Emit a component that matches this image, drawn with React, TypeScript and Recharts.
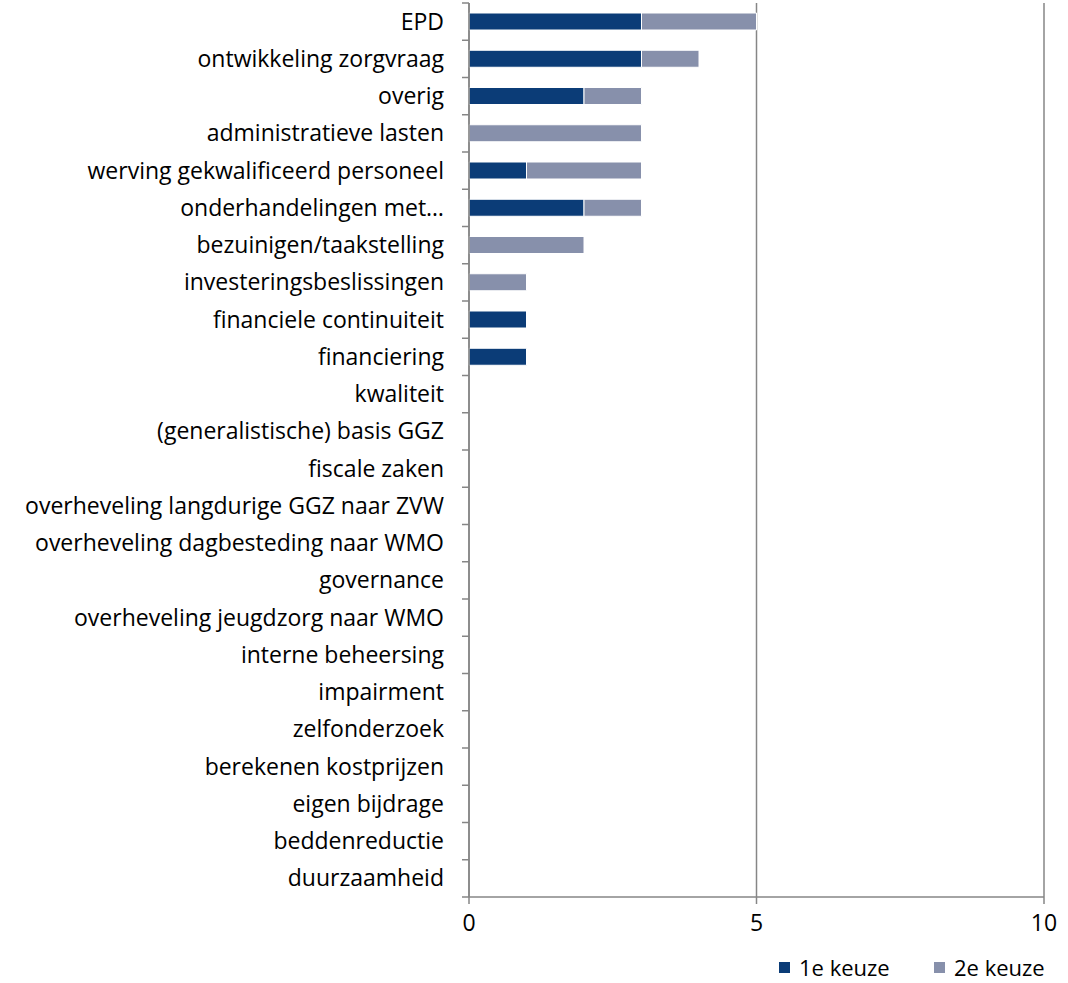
import React from "react";
import { BarChart, Bar, XAxis, YAxis, CartesianGrid } from "recharts";

const categories = [
  "EPD",
  "ontwikkeling zorgvraag",
  "overig",
  "administratieve lasten",
  "werving gekwalificeerd personeel",
  "onderhandelingen met…",
  "bezuinigen/taakstelling",
  "investeringsbeslissingen",
  "financiele continuiteit",
  "financiering",
  "kwaliteit",
  "(generalistische) basis GGZ",
  "fiscale zaken",
  "overheveling langdurige GGZ naar ZVW",
  "overheveling dagbesteding naar WMO",
  "governance",
  "overheveling jeugdzorg naar WMO",
  "interne beheersing",
  "impairment",
  "zelfonderzoek",
  "berekenen kostprijzen",
  "eigen bijdrage",
  "beddenreductie",
  "duurzaamheid",
];

const eersteKeuze = [3, 3, 2, 0, 1, 2, 0, 0, 1, 1, 0, 0, 0, 0, 0, 0, 0, 0, 0, 0, 0, 0, 0, 0];
const tweedeKeuze = [2, 1, 1, 3, 2, 1, 2, 1, 0, 0, 0, 0, 0, 0, 0, 0, 0, 0, 0, 0, 0, 0, 0, 0];

const xTicks = [0, 5, 10];
const seriesNames = ["1e keuze", "2e keuze"];

const DARK = "#0b3c77";
const LIGHT = "#8790ab";
const AXIS = "#868686";
const FONT = "'Open Sans', sans-serif";
const FONT_SIZE = 23;

const data = categories.map((name, i) => ({
  name,
  eerste: eersteKeuze[i],
  tweede: tweedeKeuze[i],
}));

const WIDTH = 1068;
const HEIGHT = 983;
const TOP = 3;
const BOTTOM_AXIS = 897;
const BAND = (BOTTOM_AXIS - TOP) / categories.length;

function CategoryTick(props: any) {
  const { x, y, payload, index } = props;
  const axisX = x + 8;
  return (
    <g>
      <line x1={axisX - 7} x2={axisX} y1={y - BAND / 2} y2={y - BAND / 2} stroke={AXIS} strokeWidth={1.5} />
      {index === categories.length - 1 && (
        <line x1={axisX - 7} x2={axisX} y1={y + BAND / 2} y2={y + BAND / 2} stroke={AXIS} strokeWidth={1.5} />
      )}
      <text x={x - 17} y={y} dy="0.35em" textAnchor="end" fontSize={FONT_SIZE} fill="#000" fontFamily={FONT}>
        {payload.value}
      </text>
    </g>
  );
}

function Legend() {
  const items = [
    { label: seriesNames[0], color: DARK, left: 779 },
    { label: seriesNames[1], color: LIGHT, left: 934 },
  ];
  return (
    <>
      {items.map((it) => (
        <div
          key={it.label}
          style={{
            position: "absolute",
            top: 956,
            left: it.left,
            height: 22,
            display: "flex",
            alignItems: "center",
            fontFamily: FONT,
            fontSize: 22,
            color: "#000",
            lineHeight: "22px",
            whiteSpace: "nowrap",
          }}
        >
          <span style={{ width: 11, height: 11, background: it.color, marginRight: 9, display: "inline-block" }} />
          {it.label}
        </div>
      ))}
    </>
  );
}

export default function App() {
  return (
    <div style={{ position: "absolute", left: 0, top: 0, width: WIDTH, height: HEIGHT, background: "#fff" }}>
      <BarChart
        width={WIDTH}
        height={HEIGHT}
        data={data}
        layout="vertical"
        margin={{ top: TOP, right: 24, bottom: HEIGHT - BOTTOM_AXIS - 50, left: 0 }}
        barSize={17}
      >
        <CartesianGrid horizontal={false} stroke={AXIS} strokeWidth={1.5} />
        <XAxis
          type="number"
          domain={[0, 10]}
          ticks={xTicks}
          height={50}
          axisLine={{ stroke: AXIS, strokeWidth: 1.5 }}
          tickLine={{ stroke: AXIS, strokeWidth: 1.5 }}
          tickSize={7}
          tickMargin={11}
          tick={{ fill: "#000", fontSize: FONT_SIZE, fontFamily: FONT }}
        />
        <YAxis
          type="category"
          dataKey="name"
          width={469}
          interval={0}
          axisLine={{ stroke: AXIS, strokeWidth: 1.5 }}
          tickLine={false}
          tick={<CategoryTick />}
        />
        <Bar dataKey="eerste" name={seriesNames[0]} stackId="a" fill={DARK} stroke="#fff" strokeWidth={1} isAnimationActive={false} />
        <Bar dataKey="tweede" name={seriesNames[1]} stackId="a" fill={LIGHT} stroke="#fff" strokeWidth={1} isAnimationActive={false} />
      </BarChart>
      <Legend />
    </div>
  );
}
